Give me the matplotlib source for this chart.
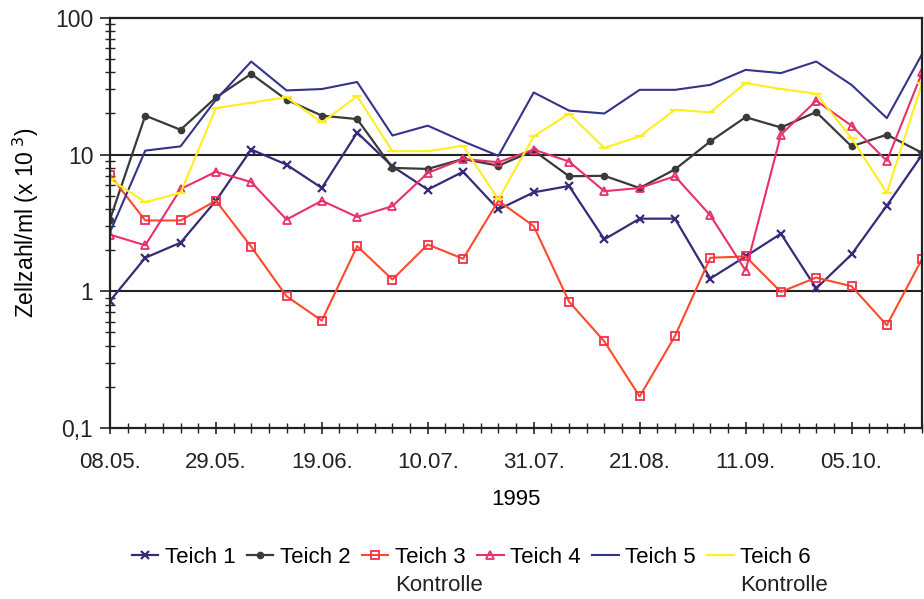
import matplotlib.pyplot as plt
from matplotlib.ticker import FixedLocator, NullFormatter
from matplotlib.transforms import IdentityTransform

plt.rcParams['font.family'] = ['Liberation Sans', 'DejaVu Sans']

# Probenahmetermine (woechentlich), Beschriftung nur jede 3. Woche
n_points = 24
tick_pos = [0, 3, 6, 9, 12, 15, 18, 21]
tick_labels = ['08.05.', '29.05.', '19.06.', '10.07.', '31.07.', '21.08.', '11.09.', '05.10.']

# Zellzahl/ml (x 10^3)
teich1 = [0.85, 1.76, 2.27, 4.6, 10.9, 8.45, 5.7, 14.5, 8.2, 5.55, 7.5, 3.97,
          5.3, 5.9, 2.4, 3.4, 3.4, 1.24, 1.8, 2.64, 1.05, 1.86, 4.24, 10.0]
teich2 = [3.35, 19.3, 15.2, 26.2, 39.0, 25.2, 19.3, 18.2, 8.0, 7.86, 9.3, 8.3,
          10.7, 6.95, 7.0, 5.7, 7.8, 12.5, 18.8, 15.8, 20.5, 11.5, 14.0, 10.3]
teich3 = [7.1, 3.3, 3.3, 4.6, 2.12, 0.92, 0.61, 2.14, 1.22, 2.2, 1.73, 4.6,
          3.0, 0.84, 0.43, 0.17, 0.47, 1.76, 1.8, 0.99, 1.26, 1.09, 0.565, 1.73]
teich4 = [2.6, 2.17, 5.6, 7.5, 6.3, 3.35, 4.6, 3.5, 4.2, 7.35, 9.3, 8.8,
          10.9, 8.9, 5.4, 5.7, 6.95, 3.6, 1.42, 14.0, 24.8, 16.3, 9.0, 40.0]
teich5 = [2.7, 10.7, 11.5, 25.2, 48.0, 29.5, 30.2, 34.0, 13.8, 16.3, 12.5, 9.8,
          28.5, 21.0, 20.0, 29.8, 29.8, 32.4, 41.7, 39.5, 48.0, 32.4, 18.5, 54.6]
teich6 = [6.6, 4.5, 5.25, 21.9, 24.0, 26.3, 17.2, 26.7, 10.6, 10.6, 11.6, 4.7,
          13.6, 19.9, 11.2, 13.6, 21.3, 20.4, 33.4, 30.2, 27.9, 13.2, 5.25, 33.4]

x = list(range(n_points))

fig = plt.figure(figsize=(9.24, 5.99), dpi=100)
ax = fig.add_axes([0.119, 0.2855, 0.879, 0.6845])

ax.plot(x, teich1, color='#3a2878', lw=1.6, marker='x', ms=6, mew=1.6, label='Teich 1')
ax.plot(x, teich2, color='#3a3a3a', lw=1.6, marker='o', ms=4.5, label='Teich 2')
ax.plot(x, teich3, color='#ff4a2a', lw=1.5, marker='s', ms=6, mfc='none', mec='#f03050',
        mew=1.3, label='Teich 3')
ax.plot(x, teich4, color='#e8306a', lw=1.5, marker='^', ms=6, mfc='none', mew=1.3,
        label='Teich 4')
ax.plot(x, teich5, color='#34348a', lw=1.5, label='Teich 5')
ax.plot(x, teich6, color='#ffee20', lw=1.5, marker='_', ms=7, mew=1.6,
        label='Teich 6')

ax.set_yscale('log')
ax.set_ylim(0.1, 100)
ax.set_xlim(0, n_points - 1)

ax.set_yticks([0.1, 1, 10, 100])
ax.set_yticklabels(['0,1', '1', '10', '100'])
ax.yaxis.set_minor_formatter(NullFormatter())
ax.axhline(1, color='#222222', lw=1.5, zorder=0)
ax.axhline(10, color='#222222', lw=1.5, zorder=0)

ax.set_xticks(tick_pos)
ax.set_xticklabels(tick_labels)
ax.xaxis.set_minor_locator(FixedLocator([i * 0.5 for i in range(2 * n_points - 1)]))

ax.tick_params(axis='both', which='major', direction='inout', length=9, width=1.2,
               labelsize=16, colors='#222222')
ax.tick_params(axis='both', which='minor', direction='inout', length=7, width=1.0,
               colors='#222222')
ax.tick_params(axis='y', which='major', length=14, pad=5, labelsize=16.5)
ax.tick_params(axis='x', which='major', pad=13)

for s in ax.spines.values():
    s.set_linewidth(1.6)
    s.set_color('#222222')

ax.set_ylabel('Zellzahl/ml (x 10$^{\\ 3}$)', fontsize=16.5, labelpad=10)
ax.set_xlabel('1995', fontsize=16, labelpad=11)

leg = fig.legend(loc='center', bbox_to_anchor=(0.51, 0.069), ncol=6, frameon=False,
                 fontsize=16, handlelength=1.2, handletextpad=0.3, columnspacing=0.5)

# zweite Zeile "Kontrolle" unter Teich 3 und Teich 6
fig.canvas.draw()
for t in leg.get_texts():
    if t.get_text() in ('Teich 3', 'Teich 6'):
        bb = t.get_window_extent()
        fig.text(bb.x0, bb.y0 - 28, 'Kontrolle', fontsize=16, color='#222222',
                 ha='left', va='bottom', transform=IdentityTransform())

fig.savefig('out.png', dpi=100)
